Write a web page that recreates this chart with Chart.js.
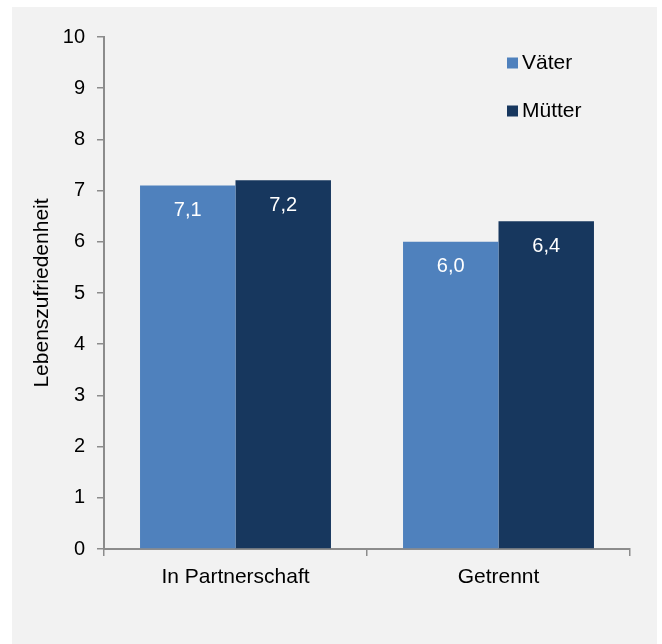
<!DOCTYPE html>
<html>
<head>
<meta charset="utf-8">
<script src="https://cdn.jsdelivr.net/npm/chart.js@4/dist/chart.umd.min.js"></script>
<style>
  body { margin: 0; background: #fff; }
  #wrap { position: absolute; left: 12px; top: 7px; width: 645px; height: 637px; background: #f2f2f2; }
</style>
</head>
<body>
<div id="wrap"><canvas id="chart" width="645" height="637"></canvas></div>
<script>
const categories = ["In Partnerschaft", "Getrennt"];
const vaeter = [7.1, 6.0];
const muetter = [7.2, 6.4];
const seriesNames = ["Väter", "Mütter"];
const yTicks = [0, 1, 2, 3, 4, 5, 6, 7, 8, 9, 10];

const FONT = "Arial, 'Liberation Sans', sans-serif";
const axisGray = "#8c8c8c";

// value labels inside the bars, near the top
const barLabels = {
  id: "barLabels",
  afterDatasetsDraw(chart) {
    const ctx = chart.ctx;
    ctx.save();
    ctx.fillStyle = "#fff";
    ctx.font = "20px " + FONT;
    ctx.textAlign = "center";
    ctx.textBaseline = "middle";
    chart.data.datasets.forEach((ds, i) => {
      chart.getDatasetMeta(i).data.forEach((bar, j) => {
        ctx.fillText(ds.data[j].toFixed(1).replace(".", ","), bar.x, bar.y + 25);
      });
    });
    ctx.restore();
  }
};

// stacked legend in the upper right
const sideLegend = {
  id: "sideLegend",
  afterDraw(chart) {
    const ctx = chart.ctx;
    ctx.save();
    ctx.font = "21px " + FONT;
    ctx.textBaseline = "middle";
    chart.data.datasets.forEach((ds, i) => {
      const cy = 56 + i * 48;
      ctx.fillStyle = ds.backgroundColor;
      ctx.fillRect(495, cy - 5.5, 11, 11);
      ctx.fillStyle = "#000";
      ctx.fillText(ds.label, 510, cy);
    });
    ctx.restore();
  }
};

new Chart(document.getElementById("chart"), {
  type: "bar",
  data: {
    labels: categories,
    datasets: [
      { label: seriesNames[0], data: vaeter, backgroundColor: "#4f81bd" },
      { label: seriesNames[1], data: muetter, backgroundColor: "#17375e" }
    ]
  },
  options: {
    responsive: false,
    animation: false,
    categoryPercentage: 0.726,
    barPercentage: 1,
    layout: { padding: { top: 30, right: 27, bottom: 0, left: 0 } },
    plugins: { legend: { display: false }, tooltip: { enabled: false } },
    scales: {
      x: {
        grid: { drawOnChartArea: false, tickLength: 7, color: axisGray, lineWidth: 1.5 },
        border: { color: axisGray, width: 2 },
        ticks: { color: "#000", font: { family: FONT, size: 21 }, padding: 9 },
        afterFit(scale) { scale.height = 95; }
      },
      y: {
        min: 0,
        max: 10,
        afterBuildTicks(scale) { scale.ticks = yTicks.map(v => ({ value: v })); },
        grid: { drawOnChartArea: false, tickLength: 7, color: axisGray, lineWidth: 1.5 },
        border: { color: axisGray, width: 2 },
        ticks: { color: "#000", font: { family: FONT, size: 20 }, padding: 12 },
        title: {
          display: true,
          text: "Lebenszufriedenheit",
          color: "#000",
          font: { family: FONT, size: 21 },
          padding: { top: 18, bottom: 0 }
        },
        afterFit(scale) { scale.width = 92; }
      }
    }
  },
  plugins: [barLabels, sideLegend]
});
</script>
</body>
</html>
